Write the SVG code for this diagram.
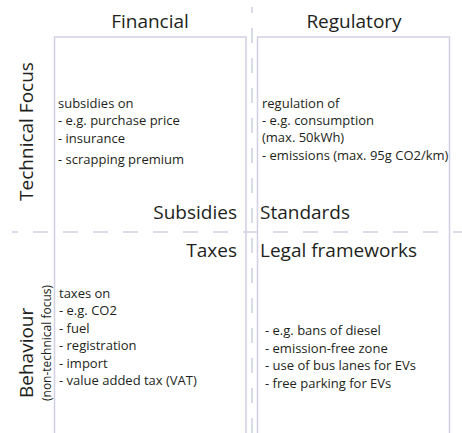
<svg xmlns="http://www.w3.org/2000/svg" width="462" height="433" viewBox="0 0 462 433">
<style>
.box{fill:none;stroke:#d2d2e4;stroke-width:1.6}
.dash{fill:none;stroke:#d0d2e6;stroke-width:1.6;stroke-dasharray:15 15}
text{font-family:"Open Sans","Noto Sans","Liberation Sans",sans-serif;fill:#231f20}
.big{font-size:19px}
.body{font-size:13px}
.small{font-size:12px}
</style>
<rect width="462" height="433" fill="#ffffff"/>
<g id="connectors">
<line class="dash" x1="12" y1="232" x2="462" y2="232" stroke-dashoffset="9"/>
<line class="dash" x1="252" y1="7" x2="252" y2="433" stroke-dashoffset="9"/>
</g>
<g id="financial-box">
<path class="box" d="M54.5 433 V37 H246 V433"/>
<text class="big" x="150" y="28" text-anchor="middle">Financial</text>
</g>
<g id="regulatory-box">
<path class="box" d="M257.5 433 V37 H449.5 V433"/>
<text class="big" x="354" y="28" text-anchor="middle">Regulatory</text>
</g>
<g id="technical-focus">
<text class="big" transform="translate(33,131.5) rotate(-90)" text-anchor="middle">Technical Focus</text>
</g>
<g id="behaviour">
<text class="big" transform="translate(33,398) rotate(-90)">Behaviour</text>
<text class="small" transform="translate(51,401) rotate(-90)">(non-technical focus)</text>
</g>
<g id="subsidies">
<text class="body" x="58" y="108">subsidies on</text>
<text class="body" x="58" y="125">- e.g. purchase price</text>
<text class="body" x="58" y="142.5">- insurance</text>
<text class="body" x="58" y="164">- scrapping premium</text>
<text class="big" x="237" y="219" text-anchor="end">Subsidies</text>
</g>
<g id="standards">
<text class="body" x="262" y="108">regulation of</text>
<text class="body" x="262" y="125">- e.g. consumption</text>
<text class="body" x="262" y="142">(max. 50kWh)</text>
<text class="body" x="262" y="160">- emissions (max. 95g CO2/km)</text>
<text class="big" x="260" y="219">Standards</text>
</g>
<g id="taxes">
<text class="big" x="237" y="257" text-anchor="end">Taxes</text>
<text class="body" x="59" y="297.5">taxes on</text>
<text class="body" x="59" y="315">- e.g. CO2</text>
<text class="body" x="59" y="332.5">- fuel</text>
<text class="body" x="59" y="350">- registration</text>
<text class="body" x="59" y="367.5">- import</text>
<text class="body" x="59" y="385">- value added tax (VAT)</text>
</g>
<g id="legal-frameworks">
<text class="big" x="260" y="257">Legal frameworks</text>
<text class="body" x="265" y="335">- e.g. bans of diesel</text>
<text class="body" x="265" y="352.5">- emission-free zone</text>
<text class="body" x="265" y="370">- use of bus lanes for EVs</text>
<text class="body" x="265" y="387.5">- free parking for EVs</text>
</g>
</svg>
